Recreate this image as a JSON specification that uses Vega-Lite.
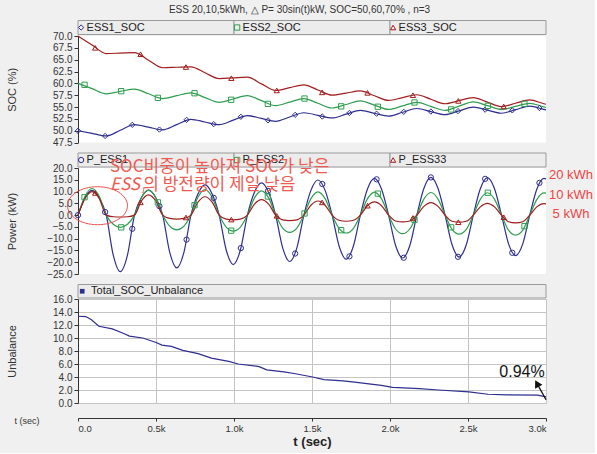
{
"$schema": "https://vega.github.io/schema/vega-lite/v6.json",
"background": "#f0f0f0",
"padding": {"left": 6, "top": 5, "right": 2, "bottom": 4},
"title": {"text": "ESS 20,10,5kWh, △ P= 30sin(t)kW, SOC=50,60,70% , n=3", "font": "Liberation Sans", "fontSize": 10, "fontWeight": "normal", "color": "#333", "offset": 5, "anchor": "middle"},
"spacing": 25,
"bounds": "flush",
"resolve": {"scale": {"x": "independent", "y": "independent", "color": "independent", "shape": "independent"}},
"config": {
  "view": {"fill": "white", "stroke": null},
  "axis": {"labelFont": "Liberation Sans", "labelFontSize": 10, "labelColor": "#333", "domainColor": "#333", "tickColor": "#333", "tickSize": 4, "labelPadding": 2, "titleFont": "Liberation Sans", "titleFontSize": 11, "titleFontWeight": "normal", "titleColor": "#333", "grid": false}
},
"datasets": {
"soc": [
{"t":0,"s":"ESS1_SOC","v":50.0},{"t":90,"s":"ESS1_SOC","v":49.45},{"t":181,"s":"ESS1_SOC","v":48.9},{"t":271,"s":"ESS1_SOC","v":50.1},{"t":362,"s":"ESS1_SOC","v":51.3},{"t":452,"s":"ESS1_SOC","v":50.75},{"t":543,"s":"ESS1_SOC","v":50.2},{"t":633,"s":"ESS1_SOC","v":51.3},{"t":724,"s":"ESS1_SOC","v":52.4},{"t":814,"s":"ESS1_SOC","v":51.85},{"t":905,"s":"ESS1_SOC","v":51.3},{"t":995,"s":"ESS1_SOC","v":52.25},{"t":1086,"s":"ESS1_SOC","v":53.2},{"t":1176,"s":"ESS1_SOC","v":52.6},{"t":1267,"s":"ESS1_SOC","v":52.0},{"t":1357,"s":"ESS1_SOC","v":52.9},{"t":1448,"s":"ESS1_SOC","v":53.8},{"t":1538,"s":"ESS1_SOC","v":53.25},{"t":1629,"s":"ESS1_SOC","v":52.7},{"t":1719,"s":"ESS1_SOC","v":53.5},{"t":1810,"s":"ESS1_SOC","v":54.3},{"t":1900,"s":"ESS1_SOC","v":53.7},{"t":1991,"s":"ESS1_SOC","v":53.1},{"t":2081,"s":"ESS1_SOC","v":53.9},{"t":2172,"s":"ESS1_SOC","v":54.7},{"t":2262,"s":"ESS1_SOC","v":54.05},{"t":2353,"s":"ESS1_SOC","v":53.4},{"t":2443,"s":"ESS1_SOC","v":54.2},{"t":2534,"s":"ESS1_SOC","v":55.0},{"t":2624,"s":"ESS1_SOC","v":54.35},{"t":2715,"s":"ESS1_SOC","v":53.7},{"t":2805,"s":"ESS1_SOC","v":54.45},{"t":2896,"s":"ESS1_SOC","v":55.2},{"t":2986,"s":"ESS1_SOC","v":54.5},{"t":3000,"s":"ESS1_SOC","v":54.4},
{"t":0,"s":"ESS2_SOC","v":60.0},{"t":90,"s":"ESS2_SOC","v":58.9},{"t":181,"s":"ESS2_SOC","v":57.8},{"t":271,"s":"ESS2_SOC","v":58.3},{"t":362,"s":"ESS2_SOC","v":58.8},{"t":452,"s":"ESS2_SOC","v":57.8},{"t":543,"s":"ESS2_SOC","v":56.8},{"t":633,"s":"ESS2_SOC","v":57.4},{"t":724,"s":"ESS2_SOC","v":58.0},{"t":814,"s":"ESS2_SOC","v":57.0},{"t":905,"s":"ESS2_SOC","v":56.0},{"t":995,"s":"ESS2_SOC","v":56.7},{"t":1086,"s":"ESS2_SOC","v":57.4},{"t":1176,"s":"ESS2_SOC","v":56.35},{"t":1267,"s":"ESS2_SOC","v":55.3},{"t":1357,"s":"ESS2_SOC","v":56.05},{"t":1448,"s":"ESS2_SOC","v":56.8},{"t":1538,"s":"ESS2_SOC","v":55.8},{"t":1629,"s":"ESS2_SOC","v":54.8},{"t":1719,"s":"ESS2_SOC","v":55.55},{"t":1810,"s":"ESS2_SOC","v":56.3},{"t":1900,"s":"ESS2_SOC","v":55.4},{"t":1991,"s":"ESS2_SOC","v":54.5},{"t":2081,"s":"ESS2_SOC","v":55.25},{"t":2172,"s":"ESS2_SOC","v":56.0},{"t":2262,"s":"ESS2_SOC","v":55.15},{"t":2353,"s":"ESS2_SOC","v":54.3},{"t":2443,"s":"ESS2_SOC","v":55.2},{"t":2534,"s":"ESS2_SOC","v":56.1},{"t":2624,"s":"ESS2_SOC","v":55.3},{"t":2715,"s":"ESS2_SOC","v":54.5},{"t":2805,"s":"ESS2_SOC","v":55.15},{"t":2896,"s":"ESS2_SOC","v":55.8},{"t":2986,"s":"ESS2_SOC","v":55.05},{"t":3000,"s":"ESS2_SOC","v":54.95},
{"t":0,"s":"ESS3_SOC","v":70.0},{"t":90,"s":"ESS3_SOC","v":68.1},{"t":181,"s":"ESS3_SOC","v":66.3},{"t":271,"s":"ESS3_SOC","v":66.4},{"t":362,"s":"ESS3_SOC","v":66.5},{"t":452,"s":"ESS3_SOC","v":64.9},{"t":543,"s":"ESS3_SOC","v":63.3},{"t":633,"s":"ESS3_SOC","v":63.4},{"t":724,"s":"ESS3_SOC","v":63.5},{"t":814,"s":"ESS3_SOC","v":62.25},{"t":905,"s":"ESS3_SOC","v":61.0},{"t":995,"s":"ESS3_SOC","v":61.15},{"t":1086,"s":"ESS3_SOC","v":61.3},{"t":1176,"s":"ESS3_SOC","v":59.9},{"t":1267,"s":"ESS3_SOC","v":58.5},{"t":1357,"s":"ESS3_SOC","v":59.1},{"t":1448,"s":"ESS3_SOC","v":59.7},{"t":1538,"s":"ESS3_SOC","v":58.6},{"t":1629,"s":"ESS3_SOC","v":57.5},{"t":1719,"s":"ESS3_SOC","v":57.95},{"t":1810,"s":"ESS3_SOC","v":58.4},{"t":1900,"s":"ESS3_SOC","v":57.4},{"t":1991,"s":"ESS3_SOC","v":56.4},{"t":2081,"s":"ESS3_SOC","v":57.0},{"t":2172,"s":"ESS3_SOC","v":57.6},{"t":2262,"s":"ESS3_SOC","v":56.65},{"t":2353,"s":"ESS3_SOC","v":55.7},{"t":2443,"s":"ESS3_SOC","v":56.35},{"t":2534,"s":"ESS3_SOC","v":57.0},{"t":2624,"s":"ESS3_SOC","v":56.05},{"t":2715,"s":"ESS3_SOC","v":55.1},{"t":2805,"s":"ESS3_SOC","v":55.8},{"t":2896,"s":"ESS3_SOC","v":56.5},{"t":2986,"s":"ESS3_SOC","v":55.7},{"t":3000,"s":"ESS3_SOC","v":55.6}
],
"socm": [
{"t":0,"s":"ESS1_SOC","v":50.0},{"t":174,"s":"ESS1_SOC","v":48.9},{"t":348,"s":"ESS1_SOC","v":51.25},{"t":522,"s":"ESS1_SOC","v":50.25},{"t":696,"s":"ESS1_SOC","v":52.3},{"t":870,"s":"ESS1_SOC","v":51.4},{"t":1044,"s":"ESS1_SOC","v":52.95},{"t":1218,"s":"ESS1_SOC","v":52.2},{"t":1392,"s":"ESS1_SOC","v":53.35},{"t":1566,"s":"ESS1_SOC","v":53.0},{"t":1740,"s":"ESS1_SOC","v":53.75},{"t":1914,"s":"ESS1_SOC","v":53.6},{"t":2088,"s":"ESS1_SOC","v":54.0},{"t":2262,"s":"ESS1_SOC","v":54.05},{"t":2436,"s":"ESS1_SOC","v":54.15},{"t":2610,"s":"ESS1_SOC","v":54.45},{"t":2784,"s":"ESS1_SOC","v":54.3},{"t":2958,"s":"ESS1_SOC","v":54.8},
{"t":42,"s":"ESS2_SOC","v":59.7},{"t":277,"s":"ESS2_SOC","v":58.35},{"t":512,"s":"ESS2_SOC","v":56.95},{"t":747,"s":"ESS2_SOC","v":57.92},{"t":982,"s":"ESS2_SOC","v":56.54},{"t":1217,"s":"ESS2_SOC","v":55.67},{"t":1452,"s":"ESS2_SOC","v":56.8},{"t":1687,"s":"ESS2_SOC","v":55.15},{"t":1922,"s":"ESS2_SOC","v":55.07},{"t":2157,"s":"ESS2_SOC","v":55.97},{"t":2392,"s":"ESS2_SOC","v":54.5},{"t":2627,"s":"ESS2_SOC","v":55.26},{"t":2862,"s":"ESS2_SOC","v":55.69},
{"t":110,"s":"ESS3_SOC","v":67.5},{"t":401,"s":"ESS3_SOC","v":66.15},{"t":692,"s":"ESS3_SOC","v":63.45},{"t":983,"s":"ESS3_SOC","v":61.1},{"t":1274,"s":"ESS3_SOC","v":58.5},{"t":1565,"s":"ESS3_SOC","v":58.1},{"t":1856,"s":"ESS3_SOC","v":58.0},{"t":2147,"s":"ESS3_SOC","v":57.5},{"t":2438,"s":"ESS3_SOC","v":56.3},{"t":2729,"s":"ESS3_SOC","v":55.13}
],
"pw": [
{"t":0,"s":"P_ESS1","v":0},{"t":45,"s":"P_ESS1","v":7.4},{"t":90,"s":"P_ESS1","v":10.5},{"t":136,"s":"P_ESS1","v":7.4},{"t":181,"s":"P_ESS1","v":0},{"t":226,"s":"P_ESS1","v":-17},{"t":271,"s":"P_ESS1","v":-24},{"t":317,"s":"P_ESS1","v":-17},
{"t":362,"s":"P_ESS1","v":0},{"t":407,"s":"P_ESS1","v":7.5},{"t":452,"s":"P_ESS1","v":10.6},{"t":498,"s":"P_ESS1","v":7.5},{"t":543,"s":"P_ESS1","v":0},{"t":588,"s":"P_ESS1","v":-15.8},{"t":633,"s":"P_ESS1","v":-22.4},{"t":679,"s":"P_ESS1","v":-15.8},
{"t":724,"s":"P_ESS1","v":0},{"t":769,"s":"P_ESS1","v":9},{"t":814,"s":"P_ESS1","v":12.8},{"t":860,"s":"P_ESS1","v":9},{"t":905,"s":"P_ESS1","v":0},{"t":950,"s":"P_ESS1","v":-14.8},{"t":995,"s":"P_ESS1","v":-21},{"t":1041,"s":"P_ESS1","v":-14.8},
{"t":1086,"s":"P_ESS1","v":0},{"t":1131,"s":"P_ESS1","v":9.7},{"t":1176,"s":"P_ESS1","v":13.7},{"t":1222,"s":"P_ESS1","v":9.7},{"t":1267,"s":"P_ESS1","v":0},{"t":1312,"s":"P_ESS1","v":-13.9},{"t":1357,"s":"P_ESS1","v":-19.7},{"t":1403,"s":"P_ESS1","v":-13.9},
{"t":1448,"s":"P_ESS1","v":0},{"t":1493,"s":"P_ESS1","v":10.5},{"t":1538,"s":"P_ESS1","v":14.9},{"t":1584,"s":"P_ESS1","v":10.5},{"t":1629,"s":"P_ESS1","v":0},{"t":1674,"s":"P_ESS1","v":-13.2},{"t":1719,"s":"P_ESS1","v":-18.7},{"t":1765,"s":"P_ESS1","v":-13.2},
{"t":1810,"s":"P_ESS1","v":0},{"t":1855,"s":"P_ESS1","v":11},{"t":1900,"s":"P_ESS1","v":15.6},{"t":1946,"s":"P_ESS1","v":11},{"t":1991,"s":"P_ESS1","v":0},{"t":2036,"s":"P_ESS1","v":-12.9},{"t":2081,"s":"P_ESS1","v":-18.2},{"t":2127,"s":"P_ESS1","v":-12.9},
{"t":2172,"s":"P_ESS1","v":0},{"t":2217,"s":"P_ESS1","v":11.3},{"t":2262,"s":"P_ESS1","v":16},{"t":2308,"s":"P_ESS1","v":11.3},{"t":2353,"s":"P_ESS1","v":0},{"t":2398,"s":"P_ESS1","v":-12.6},{"t":2443,"s":"P_ESS1","v":-17.8},{"t":2489,"s":"P_ESS1","v":-12.6},
{"t":2534,"s":"P_ESS1","v":0},{"t":2579,"s":"P_ESS1","v":11.2},{"t":2624,"s":"P_ESS1","v":15.9},{"t":2670,"s":"P_ESS1","v":11.2},{"t":2715,"s":"P_ESS1","v":0},{"t":2760,"s":"P_ESS1","v":-12.2},{"t":2805,"s":"P_ESS1","v":-17.2},{"t":2851,"s":"P_ESS1","v":-12.2},
{"t":2896,"s":"P_ESS1","v":0},{"t":2941,"s":"P_ESS1","v":11},{"t":2986,"s":"P_ESS1","v":15.6},{"t":3000,"s":"P_ESS1","v":15.4},
{"t":0,"s":"P_ESS2","v":0},{"t":45,"s":"P_ESS2","v":8},{"t":90,"s":"P_ESS2","v":11.3},{"t":136,"s":"P_ESS2","v":8},{"t":181,"s":"P_ESS2","v":0},{"t":226,"s":"P_ESS2","v":-3.9},{"t":271,"s":"P_ESS2","v":-5.2},{"t":317,"s":"P_ESS2","v":-3.9},
{"t":362,"s":"P_ESS2","v":0},{"t":407,"s":"P_ESS2","v":7.5},{"t":452,"s":"P_ESS2","v":10.6},{"t":498,"s":"P_ESS2","v":7.5},{"t":543,"s":"P_ESS2","v":0},{"t":588,"s":"P_ESS2","v":-4.7},{"t":633,"s":"P_ESS2","v":-6.3},{"t":679,"s":"P_ESS2","v":-4.7},
{"t":724,"s":"P_ESS2","v":0},{"t":769,"s":"P_ESS2","v":7.6},{"t":814,"s":"P_ESS2","v":10.8},{"t":860,"s":"P_ESS2","v":7.6},{"t":905,"s":"P_ESS2","v":0},{"t":950,"s":"P_ESS2","v":-5.1},{"t":995,"s":"P_ESS2","v":-6.8},{"t":1041,"s":"P_ESS2","v":-5.1},
{"t":1086,"s":"P_ESS2","v":0},{"t":1131,"s":"P_ESS2","v":7.3},{"t":1176,"s":"P_ESS2","v":10.3},{"t":1222,"s":"P_ESS2","v":7.3},{"t":1267,"s":"P_ESS2","v":0},{"t":1312,"s":"P_ESS2","v":-5.5},{"t":1357,"s":"P_ESS2","v":-7.3},{"t":1403,"s":"P_ESS2","v":-5.5},
{"t":1448,"s":"P_ESS2","v":0},{"t":1493,"s":"P_ESS2","v":7},{"t":1538,"s":"P_ESS2","v":9.9},{"t":1584,"s":"P_ESS2","v":7},{"t":1629,"s":"P_ESS2","v":0},{"t":1674,"s":"P_ESS2","v":-5.7},{"t":1719,"s":"P_ESS2","v":-7.6},{"t":1765,"s":"P_ESS2","v":-5.7},
{"t":1810,"s":"P_ESS2","v":0},{"t":1855,"s":"P_ESS2","v":6.9},{"t":1900,"s":"P_ESS2","v":9.8},{"t":1946,"s":"P_ESS2","v":6.9},{"t":1991,"s":"P_ESS2","v":0},{"t":2036,"s":"P_ESS2","v":-5.9},{"t":2081,"s":"P_ESS2","v":-7.9},{"t":2127,"s":"P_ESS2","v":-5.9},
{"t":2172,"s":"P_ESS2","v":0},{"t":2217,"s":"P_ESS2","v":6.8},{"t":2262,"s":"P_ESS2","v":9.6},{"t":2308,"s":"P_ESS2","v":6.8},{"t":2353,"s":"P_ESS2","v":0},{"t":2398,"s":"P_ESS2","v":-6.1},{"t":2443,"s":"P_ESS2","v":-8.1},{"t":2489,"s":"P_ESS2","v":-6.1},
{"t":2534,"s":"P_ESS2","v":0},{"t":2579,"s":"P_ESS2","v":6.7},{"t":2624,"s":"P_ESS2","v":9.5},{"t":2670,"s":"P_ESS2","v":6.7},{"t":2715,"s":"P_ESS2","v":0},{"t":2760,"s":"P_ESS2","v":-6.4},{"t":2805,"s":"P_ESS2","v":-8.5},{"t":2851,"s":"P_ESS2","v":-6.4},
{"t":2896,"s":"P_ESS2","v":0},{"t":2941,"s":"P_ESS2","v":6.6},{"t":2986,"s":"P_ESS2","v":9.4},{"t":3000,"s":"P_ESS2","v":9.3},
{"t":0,"s":"P_ESS33","v":0},{"t":45,"s":"P_ESS33","v":7.1},{"t":90,"s":"P_ESS33","v":10},{"t":136,"s":"P_ESS33","v":7.1},{"t":181,"s":"P_ESS33","v":0},{"t":226,"s":"P_ESS33","v":-0.7},{"t":271,"s":"P_ESS33","v":-0.8},{"t":317,"s":"P_ESS33","v":-0.7},
{"t":362,"s":"P_ESS33","v":0},{"t":407,"s":"P_ESS33","v":6.1},{"t":452,"s":"P_ESS33","v":8.6},{"t":498,"s":"P_ESS33","v":6.1},{"t":543,"s":"P_ESS33","v":0},{"t":588,"s":"P_ESS33","v":-1.4},{"t":633,"s":"P_ESS33","v":-1.7},{"t":679,"s":"P_ESS33","v":-1.4},
{"t":724,"s":"P_ESS33","v":0},{"t":769,"s":"P_ESS33","v":5.5},{"t":814,"s":"P_ESS33","v":7.8},{"t":860,"s":"P_ESS33","v":5.5},{"t":905,"s":"P_ESS33","v":0},{"t":950,"s":"P_ESS33","v":-1.7},{"t":995,"s":"P_ESS33","v":-2},{"t":1041,"s":"P_ESS33","v":-1.7},
{"t":1086,"s":"P_ESS33","v":0},{"t":1131,"s":"P_ESS33","v":4.7},{"t":1176,"s":"P_ESS33","v":6.6},{"t":1222,"s":"P_ESS33","v":4.7},{"t":1267,"s":"P_ESS33","v":0},{"t":1312,"s":"P_ESS33","v":-2},{"t":1357,"s":"P_ESS33","v":-2.3},{"t":1403,"s":"P_ESS33","v":-2},
{"t":1448,"s":"P_ESS33","v":0},{"t":1493,"s":"P_ESS33","v":4.2},{"t":1538,"s":"P_ESS33","v":6},{"t":1584,"s":"P_ESS33","v":4.2},{"t":1629,"s":"P_ESS33","v":0},{"t":1674,"s":"P_ESS33","v":-2.2},{"t":1719,"s":"P_ESS33","v":-2.6},{"t":1765,"s":"P_ESS33","v":-2.2},
{"t":1810,"s":"P_ESS33","v":0},{"t":1855,"s":"P_ESS33","v":4},{"t":1900,"s":"P_ESS33","v":5.6},{"t":1946,"s":"P_ESS33","v":4},{"t":1991,"s":"P_ESS33","v":0},{"t":2036,"s":"P_ESS33","v":-2.5},{"t":2081,"s":"P_ESS33","v":-2.9},{"t":2127,"s":"P_ESS33","v":-2.5},
{"t":2172,"s":"P_ESS33","v":0},{"t":2217,"s":"P_ESS33","v":3.7},{"t":2262,"s":"P_ESS33","v":5.3},{"t":2308,"s":"P_ESS33","v":3.7},{"t":2353,"s":"P_ESS33","v":0},{"t":2398,"s":"P_ESS33","v":-2.6},{"t":2443,"s":"P_ESS33","v":-3},{"t":2489,"s":"P_ESS33","v":-2.6},
{"t":2534,"s":"P_ESS33","v":0},{"t":2579,"s":"P_ESS33","v":3.5},{"t":2624,"s":"P_ESS33","v":5},{"t":2670,"s":"P_ESS33","v":3.5},{"t":2715,"s":"P_ESS33","v":0},{"t":2760,"s":"P_ESS33","v":-2.8},{"t":2805,"s":"P_ESS33","v":-3.3},{"t":2851,"s":"P_ESS33","v":-2.8},
{"t":2896,"s":"P_ESS33","v":0},{"t":2941,"s":"P_ESS33","v":3.5},{"t":2986,"s":"P_ESS33","v":4.9},{"t":3000,"s":"P_ESS33","v":4.8}
],
"pwm": [
{"t":0,"s":"P_ESS1","v":0},{"t":174,"s":"P_ESS1","v":1.3},{"t":348,"s":"P_ESS1","v":-5.8},{"t":522,"s":"P_ESS1","v":3.8},{"t":696,"s":"P_ESS1","v":-10.4},{"t":870,"s":"P_ESS1","v":7.3},{"t":1044,"s":"P_ESS1","v":-14},{"t":1218,"s":"P_ESS1","v":10.3},{"t":1392,"s":"P_ESS1","v":-16.3},{"t":1566,"s":"P_ESS1","v":13.2},{"t":1740,"s":"P_ESS1","v":-17.5},{"t":1914,"s":"P_ESS1","v":15.2},{"t":2088,"s":"P_ESS1","v":-18.1},{"t":2262,"s":"P_ESS1","v":16},{"t":2436,"s":"P_ESS1","v":-17.7},{"t":2610,"s":"P_ESS1","v":15.4},{"t":2784,"s":"P_ESS1","v":-16},{"t":2958,"s":"P_ESS1","v":13.7},
{"t":42,"s":"P_ESS2","v":7.6},{"t":277,"s":"P_ESS2","v":-5.2},{"t":512,"s":"P_ESS2","v":5.4},{"t":747,"s":"P_ESS2","v":4.2},{"t":982,"s":"P_ESS2","v":-6.6},{"t":1217,"s":"P_ESS2","v":7.9},{"t":1452,"s":"P_ESS2","v":0.7},{"t":1687,"s":"P_ESS2","v":-6.4},{"t":1922,"s":"P_ESS2","v":9.1},{"t":2157,"s":"P_ESS2","v":-2},{"t":2392,"s":"P_ESS2","v":-5.2},{"t":2627,"s":"P_ESS2","v":9.5},{"t":2862,"s":"P_ESS2","v":-4.7},
{"t":110,"s":"P_ESS33","v":9.4},{"t":401,"s":"P_ESS33","v":5.4},{"t":692,"s":"P_ESS33","v":-1.0},{"t":983,"s":"P_ESS33","v":-1.9},{"t":1274,"s":"P_ESS33","v":-0.3},{"t":1565,"s":"P_ESS33","v":5.4},{"t":1856,"s":"P_ESS33","v":4.0},{"t":2147,"s":"P_ESS33","v":-1.2},{"t":2438,"s":"P_ESS33","v":-3.0},{"t":2729,"s":"P_ESS33","v":-0.9}
],
"unb": [
{"t":0,"s":"Total_SOC_Unbalance","v":13.35},{"t":50,"s":"Total_SOC_Unbalance","v":13.3},{"t":86,"s":"Total_SOC_Unbalance","v":12.8},{"t":134,"s":"Total_SOC_Unbalance","v":11.8},{"t":220,"s":"Total_SOC_Unbalance","v":11.4},{"t":293,"s":"Total_SOC_Unbalance","v":10.7},{"t":330,"s":"Total_SOC_Unbalance","v":10.3},{"t":415,"s":"Total_SOC_Unbalance","v":10.0},{"t":501,"s":"Total_SOC_Unbalance","v":9.3},{"t":538,"s":"Total_SOC_Unbalance","v":8.9},{"t":599,"s":"Total_SOC_Unbalance","v":8.7},{"t":672,"s":"Total_SOC_Unbalance","v":8.1},{"t":770,"s":"Total_SOC_Unbalance","v":7.6},{"t":855,"s":"Total_SOC_Unbalance","v":6.9},{"t":966,"s":"Total_SOC_Unbalance","v":6.4},{"t":1027,"s":"Total_SOC_Unbalance","v":6.0},{"t":1161,"s":"Total_SOC_Unbalance","v":5.6},{"t":1210,"s":"Total_SOC_Unbalance","v":5.1},{"t":1320,"s":"Total_SOC_Unbalance","v":4.8},{"t":1394,"s":"Total_SOC_Unbalance","v":4.5},{"t":1504,"s":"Total_SOC_Unbalance","v":4.0},{"t":1577,"s":"Total_SOC_Unbalance","v":3.6},{"t":1699,"s":"Total_SOC_Unbalance","v":3.4},{"t":1773,"s":"Total_SOC_Unbalance","v":3.2},{"t":1944,"s":"Total_SOC_Unbalance","v":2.7},{"t":2017,"s":"Total_SOC_Unbalance","v":2.4},{"t":2188,"s":"Total_SOC_Unbalance","v":2.2},{"t":2311,"s":"Total_SOC_Unbalance","v":2.0},{"t":2506,"s":"Total_SOC_Unbalance","v":1.7},{"t":2628,"s":"Total_SOC_Unbalance","v":1.35},{"t":2750,"s":"Total_SOC_Unbalance","v":1.25},{"t":2946,"s":"Total_SOC_Unbalance","v":1.2},{"t":3000,"s":"Total_SOC_Unbalance","v":0.94}
],
"kwh": [
{"t":3160,"v":17.1,"lab":"20 kWh"},{"t":3160,"v":8.6,"lab":"10 kWh"},{"t":3160,"v":0.6,"lab":"5 kWh"}
],
"note": [
{"t":205,"v":20.3,"lab":"SOC비중이 높아져 SOC가 낮은"},{"t":418,"v":12.6,"lab":"의 방전량이 제일 낮음"}
]
},
"vconcat": [
{
 "width": 468, "height": 106.6,
 "resolve": {"scale": {"x": "independent", "y": "independent", "color": "independent", "shape": "independent"}},
 "layer": [
  {"data": {"values": [{"s": "ESS1_SOC"}, {"s": "ESS2_SOC"}, {"s": "ESS3_SOC"}]},
   "layer": [
    {"mark": {"type": "rect", "fill": "#ececec", "stroke": "#9a9a9a", "strokeWidth": 1},
     "encoding": {"x": {"field": "s", "type": "nominal", "scale": {"type": "band", "paddingInner": 0, "paddingOuter": 0}, "axis": null},
                  "y": {"datum": 0, "scale": {"domain": [0, 1], "range": [-15.5, -1.5]}, "axis": null}, "y2": {"datum": 1}}},
    {"mark": {"type": "point", "filled": false, "size": 28, "strokeWidth": 1, "opacity": 1},
     "encoding": {"x": {"field": "s", "type": "nominal", "bandPosition": 0.02, "axis": null}, "y": {"datum": 0.5},
       "color": {"field": "s", "type": "nominal", "scale": {"domain": ["ESS1_SOC","ESS2_SOC","ESS3_SOC"], "range": ["#2e2e8f","#2f9e4f","#a11d1d"]}, "legend": null},
       "shape": {"field": "s", "type": "nominal", "scale": {"domain": ["ESS1_SOC","ESS2_SOC","ESS3_SOC"], "range": ["diamond","square","triangle-up"]}, "legend": null}}},
    {"mark": {"type": "text", "align": "left", "baseline": "middle", "font": "Liberation Sans", "fontSize": 11, "color": "#222"},
     "encoding": {"x": {"field": "s", "type": "nominal", "bandPosition": 0.055, "axis": null}, "y": {"datum": 0.5}, "text": {"field": "s"}}}
   ]},
  {"encoding": {
    "x": {"field": "t", "type": "quantitative", "scale": {"domain": [0, 3000], "nice": false}, "axis": null},
    "y": {"field": "v", "type": "quantitative", "scale": {"domain": [47.5, 70], "nice": false, "zero": false},
          "axis": {"orient": "left", "title": "SOC (%)", "values": [47.5,50,52.5,55,57.5,60,62.5,65,67.5,70], "format": ".1f", "titleAngle": 270, "titleX": -66, "titleBaseline": "middle", "titleAlign": "center"}}
   },
   "layer": [
    {"data": {"name": "soc"}, "mark": {"type": "line", "interpolate": "monotone", "strokeWidth": 1.2},
     "encoding": {"color": {"field": "s", "type": "nominal", "scale": {"domain": ["ESS1_SOC","ESS2_SOC","ESS3_SOC"], "range": ["#2e2e8f","#2f9e4f","#a11d1d"]}, "legend": null}}},
    {"data": {"name": "socm"}, "mark": {"type": "point", "filled": false, "size": 28, "strokeWidth": 1, "opacity": 1},
     "encoding": {
       "color": {"field": "s", "type": "nominal", "legend": null},
       "shape": {"field": "s", "type": "nominal", "scale": {"domain": ["ESS1_SOC","ESS2_SOC","ESS3_SOC"], "range": ["diamond","square","triangle-up"]}, "legend": null}}}
   ]}
 ]
},
{
 "width": 468, "height": 106,
 "resolve": {"scale": {"x": "independent", "y": "independent", "color": "independent", "shape": "independent"}},
 "layer": [
  {"data": {"values": [{"s": "P_ESS1"}, {"s": "P_ESS2"}, {"s": "P_ESS33"}]},
   "layer": [
    {"mark": {"type": "rect", "fill": "#ececec", "stroke": "#9a9a9a", "strokeWidth": 1},
     "encoding": {"x": {"field": "s", "type": "nominal", "scale": {"type": "band", "paddingInner": 0, "paddingOuter": 0}, "axis": null},
                  "y": {"datum": 0, "scale": {"domain": [0, 1], "range": [-15, -1]}, "axis": null}, "y2": {"datum": 1}}},
    {"mark": {"type": "point", "filled": false, "size": 28, "strokeWidth": 1, "opacity": 1},
     "encoding": {"x": {"field": "s", "type": "nominal", "bandPosition": 0.02, "axis": null}, "y": {"datum": 0.5},
       "color": {"field": "s", "type": "nominal", "scale": {"domain": ["P_ESS1","P_ESS2","P_ESS33"], "range": ["#2e2e8f","#2f9e4f","#a11d1d"]}, "legend": null},
       "shape": {"field": "s", "type": "nominal", "scale": {"domain": ["P_ESS1","P_ESS2","P_ESS33"], "range": ["circle","square","triangle-up"]}, "legend": null}}},
    {"mark": {"type": "text", "align": "left", "baseline": "middle", "font": "Liberation Sans", "fontSize": 11, "color": "#222"},
     "encoding": {"x": {"field": "s", "type": "nominal", "bandPosition": 0.055, "axis": null}, "y": {"datum": 0.5}, "text": {"field": "s"}}}
   ]},
  {"encoding": {
    "x": {"field": "t", "type": "quantitative", "scale": {"domain": [0, 3000], "nice": false}, "axis": null},
    "y": {"field": "v", "type": "quantitative", "scale": {"domain": [-25, 20], "nice": false, "zero": false},
          "axis": {"orient": "left", "title": "Power (kW)", "values": [-25,-20,-15,-10,-5,0,5,10,15,20], "format": ".1f", "titleAngle": 270, "titleX": -66, "titleBaseline": "middle", "titleAlign": "center"}}
   },
   "layer": [
    {"data": {"name": "pw"}, "mark": {"type": "line", "interpolate": "monotone", "strokeWidth": 1.2},
     "encoding": {"color": {"field": "s", "type": "nominal", "scale": {"domain": ["P_ESS1","P_ESS2","P_ESS33"], "range": ["#2e2e8f","#2f9e4f","#a11d1d"]}, "legend": null}}},
    {"data": {"name": "pwm"}, "mark": {"type": "point", "filled": false, "size": 28, "strokeWidth": 1, "opacity": 1},
     "encoding": {
       "color": {"field": "s", "type": "nominal", "legend": null},
       "shape": {"field": "s", "type": "nominal", "scale": {"domain": ["P_ESS1","P_ESS2","P_ESS33"], "range": ["circle","square","triangle-up"]}, "legend": null}}},
    {"data": {"values": [{"t": 125, "v": 4.0}]}, "mark": {"type": "point", "shape": "M-1.5,0A1.5,0.95,0,1,1,1.5,0A1.5,0.95,0,1,1,-1.5,0Z", "size": 1600, "filled": false, "stroke": "#e8524f", "strokeWidth": 1, "opacity": 1}},
    {"data": {"name": "note"}, "mark": {"type": "text", "font": "Noto Sans CJK KR", "fontSize": 17, "color": "#ef5b52", "align": "left", "baseline": "middle"},
     "encoding": {"text": {"field": "lab"}}},
    {"data": {"values": [{"t": 205, "v": 12.6, "lab": "ESS₁"}]}, "mark": {"type": "text", "font": "Noto Sans CJK KR", "fontSize": 17, "fontStyle": "italic", "color": "#ef5b52", "align": "left", "baseline": "middle"},
     "encoding": {"text": {"field": "lab"}}},
    {"data": {"name": "kwh"}, "mark": {"type": "text", "font": "Liberation Sans", "fontSize": 13, "color": "#ee4444", "align": "center", "baseline": "middle"},
     "encoding": {"text": {"field": "lab"}}}
   ]}
 ]
},
{
 "width": 468, "height": 104,
 "resolve": {"scale": {"x": "independent", "y": "independent"}},
 "layer": [
  {"data": {"values": [{"s": "Total_SOC_Unbalance"}]},
   "layer": [
    {"mark": {"type": "rect", "fill": "#ececec", "stroke": "#9a9a9a", "strokeWidth": 1},
     "encoding": {"x": {"field": "s", "type": "nominal", "scale": {"type": "band", "paddingInner": 0, "paddingOuter": 0}, "axis": null},
                  "y": {"datum": 0, "scale": {"domain": [0, 1], "range": [-14.5, -1]}, "axis": null}, "y2": {"datum": 1}}},
    {"mark": {"type": "point", "shape": "square", "filled": true, "size": 22, "color": "#2e2e8f", "opacity": 1},
     "encoding": {"x": {"field": "s", "type": "nominal", "bandPosition": 0.009, "axis": null}, "y": {"datum": 0.5}}},
    {"mark": {"type": "text", "align": "left", "baseline": "middle", "font": "Liberation Sans", "fontSize": 11, "color": "#222"},
     "encoding": {"x": {"field": "s", "type": "nominal", "bandPosition": 0.028, "axis": null}, "y": {"datum": 0.5}, "text": {"field": "s"}}}
   ]},
  {"encoding": {
    "x": {"field": "t", "type": "quantitative", "scale": {"domain": [0, 3000], "nice": false},
          "axis": {"orient": "bottom", "title": "t (sec)", "titleFontWeight": "bold", "titleFontSize": 13, "titleColor": "#222", "titlePadding": 3, "values": [0,500,1000,1500,2000,2500,3000], "labelExpr": "datum.value == 0 ? '0.0' : format(datum.value / 1000, '.1f') + 'k'", "offset": 15, "grid": true, "gridColor": "#c4c4c4", "labelFontSize": 9.5, "labelPadding": 2, "tickSize": 3}},
    "y": {"field": "v", "type": "quantitative", "scale": {"domain": [0, 16], "nice": false, "zero": false},
          "axis": {"orient": "left", "title": "Unbalance", "values": [0,2,4,6,8,10,12,14,16], "format": ".1f", "grid": true, "gridColor": "#c4c4c4", "titleAngle": 270, "titleX": -66, "titleBaseline": "middle", "titleAlign": "center"}}
   },
   "layer": [
    {"data": {"name": "unb"}, "mark": {"type": "line", "strokeWidth": 1.2, "color": "#2e2e8f"}},
    {"data": {"values": [{"t": 2846, "v": 4.7, "lab": "0.94%"}]}, "mark": {"type": "text", "font": "Liberation Sans", "fontSize": 16, "color": "#111", "align": "center", "baseline": "middle"},
     "encoding": {"text": {"field": "lab"}}},
    {"data": {"values": [{"t": 3000, "v": 0.5, "t2": 2945, "v2": 2.9}]}, "mark": {"type": "rule", "color": "#111", "strokeWidth": 1.3},
     "encoding": {"x2": {"field": "t2"}, "y2": {"field": "v2"}}},
    {"data": {"values": [{"t": 2942, "v": 3.0}]}, "mark": {"type": "point", "shape": "triangle-up", "filled": true, "color": "#111", "size": 70, "angle": 331, "opacity": 1}},
    {"data": {"values": [{"t": 0, "v": 0, "lab": "t (sec)"}]}, "mark": {"type": "text", "font": "Liberation Sans", "fontSize": 9, "color": "#333", "align": "center", "baseline": "middle", "dx": -51, "dy": 18},
     "encoding": {"text": {"field": "lab"}}}
   ]}
 ]
}
]
}
